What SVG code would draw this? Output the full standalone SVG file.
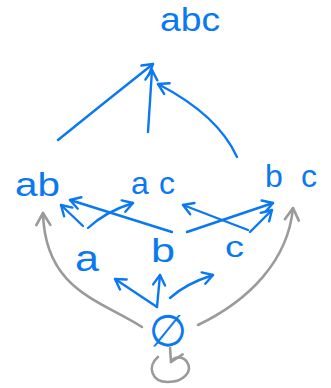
<svg xmlns="http://www.w3.org/2000/svg" width="331" height="388" viewBox="0 0 331 388">
<defs>
<style>
.t{font-family:"Liberation Sans","DejaVu Sans",sans-serif;fill:#0a78f0;}
.b{fill:none;stroke:#0a78f0;stroke-width:2.4;stroke-linecap:round;stroke-linejoin:round;}
.g{fill:none;stroke:#9a9a9a;stroke-width:2.6;stroke-linecap:round;stroke-linejoin:round;}
</style>
<marker id="ab" markerUnits="userSpaceOnUse" viewBox="-12 -8 14 16" markerWidth="14" markerHeight="16" refX="0" refY="0" orient="auto">
<path d="M-10,-6 L0,0 L-10,6" fill="none" stroke="#0a78f0" stroke-width="2.4" stroke-linecap="round" stroke-linejoin="round"/>
</marker>
<marker id="ag" markerUnits="userSpaceOnUse" viewBox="-14 -9 16 18" markerWidth="16" markerHeight="18" refX="0" refY="0" orient="auto">
<path d="M-12,-7 L0,0 L-12,7" fill="none" stroke="#9a9a9a" stroke-width="2.6" stroke-linecap="round" stroke-linejoin="round"/>
</marker>
</defs>
<rect width="331" height="388" fill="#ffffff"/>
<g id="connectors">
<path class="b" d="M58,140 Q105,102 153,64" marker-end="url(#ab)"/>
<path class="b" d="M148,132 L152,70" marker-end="url(#ab)"/>
<path class="b" d="M237,157 Q218,115 158,84" marker-end="url(#ab)"/>
<path class="b" d="M83,226 L61,205" marker-end="url(#ab)"/>
<path class="b" d="M172,232 L70,200" marker-end="url(#ab)"/>
<path class="b" d="M88,228 Q105,212 133,203" marker-end="url(#ab)"/>
<path class="b" d="M248,230 L183,205" marker-end="url(#ab)"/>
<path class="b" d="M187,232 L273,203" marker-end="url(#ab)"/>
<path class="b" d="M250,232 L272,210" marker-end="url(#ab)"/>
<path class="b" d="M157,307 L115,279" marker-end="url(#ab)"/>
<path class="b" d="M157,307 L160,275" marker-end="url(#ab)"/>
<path class="b" d="M170,298 Q185,284 213,275" marker-end="url(#ab)"/>
<path class="g" d="M142,327 C100,300 45,290 43,213" marker-end="url(#ag)"/>
<path class="g" d="M198,325 C250,300 288,260 293,208" marker-end="url(#ag)"/>
<path class="g" d="M158,357 C147,366 151,382 168,382 C184,382 193,371 187,362 C183,356 174,356 171,362" marker-end="url(#ag)"/>
</g>
<g id="n-abc"><text class="t" x="160" y="31" font-size="34" textLength="60" lengthAdjust="spacingAndGlyphs">abc</text></g>
<g id="n-ab"><text class="t" x="15" y="196" font-size="34" textLength="45" lengthAdjust="spacingAndGlyphs">ab</text></g>
<g id="n-ac"><text class="t" x="131" y="194" font-size="32" textLength="44" lengthAdjust="spacing">ac</text></g>
<g id="n-bc"><text class="t" x="265" y="187" font-size="32" textLength="52" lengthAdjust="spacing">bc</text></g>
<g id="n-a"><text class="t" x="75" y="271" font-size="36" textLength="24" lengthAdjust="spacingAndGlyphs">a</text></g>
<g id="n-b"><text class="t" x="151" y="262" font-size="34" textLength="24" lengthAdjust="spacingAndGlyphs">b</text></g>
<g id="n-c"><text class="t" x="225" y="257" font-size="30" textLength="19" lengthAdjust="spacingAndGlyphs">c</text></g>
<g id="n-empty"><text class="t" x="168" y="346" font-size="44" text-anchor="middle" style="font-family:'DejaVu Sans',sans-serif">∅</text></g>
</svg>
